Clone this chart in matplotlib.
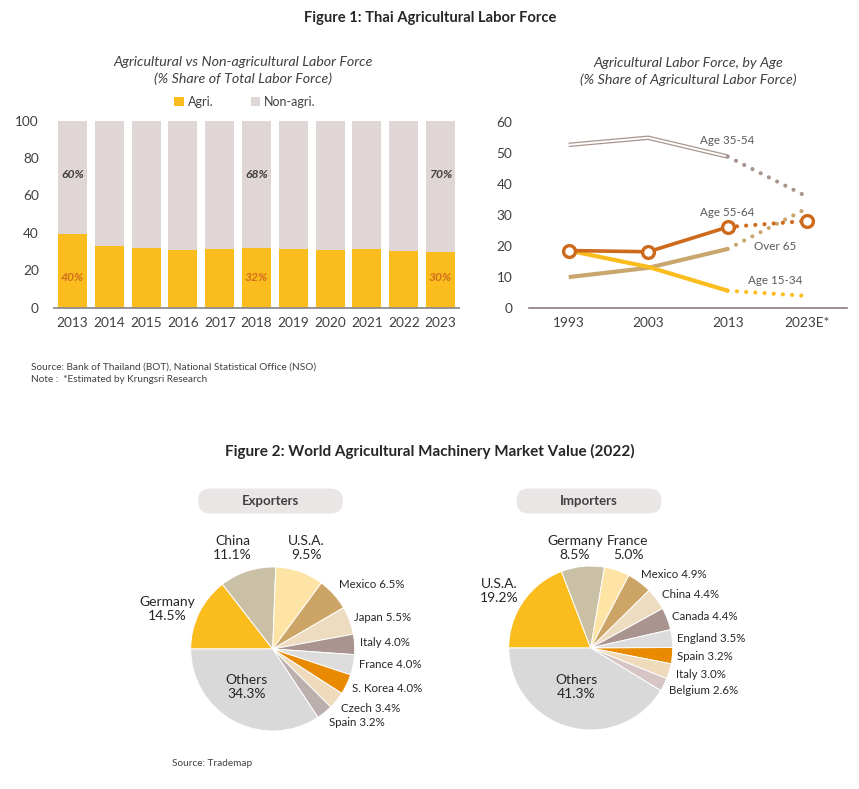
import matplotlib
matplotlib.use("Agg")
import matplotlib.pyplot as plt
from matplotlib.patches import FancyBboxPatch, Patch

plt.rcParams['font.family'] = ['Lato', 'DejaVu Sans']

# ---------------- data ----------------
years = ["2013", "2014", "2015", "2016", "2017", "2018", "2019", "2020", "2021", "2022", "2023"]
agri = [39.6, 33.2, 32.1, 31.0, 31.4, 32.1, 31.2, 31.0, 31.6, 30.3, 29.9]
non_agri = [round(100 - v, 1) for v in agri]
labeled_idx = [0, 5, 10]

age_periods = ["1993", "2003", "2013", "2023E*"]
age_35_54 = [52.7, 55.0, 48.9, 35.9]
age_55_64 = [18.5, 18.1, 26.1, 28.1]
age_15_34 = [18.5, 13.2, 5.5, 3.8]
age_over65 = [9.9, 12.9, 19.0, 32.2]

exp_names = ["Germany", "China", "U.S.A.", "Mexico", "Japan", "Italy", "France",
             "S. Korea", "Czech", "Spain", "Others"]
exp_share = [14.5, 11.1, 9.5, 6.5, 5.5, 4.0, 4.0, 4.0, 3.4, 3.2, 34.3]

imp_names = ["U.S.A.", "Germany", "France", "Mexico", "China", "Canada", "England",
             "Spain", "Italy", "Belgium", "Others"]
imp_share = [19.2, 8.5, 5.0, 4.9, 4.4, 4.4, 3.5, 3.2, 3.0, 2.6, 41.3]

# ---------------- styles ----------------
W, H = 859, 789
fig = plt.figure(figsize=(W / 100, H / 100), dpi=100)
fig.patch.set_facecolor("white")

def fx(x):
    return x / W

def fy(y):
    return 1 - y / H

TXT = "#404040"
DARK = "#262626"
YEL = "#fbbc1e"
GRAYBAR = "#e0d6d6"
AX = "#8c8c8c"

# ---------------- titles ----------------
fig.text(fx(430), fy(18), "Figure 1: Thai Agricultural Labor Force", ha="center", va="center",
         fontsize=10.6, fontweight="bold", color=DARK)
fig.text(fx(430), fy(451), "Figure 2: World Agricultural Machinery Market Value (2022)", ha="center",
         va="center", fontsize=11, fontweight="bold", color=DARK)

# ---------------- bar chart ----------------
ax1 = fig.add_axes([fx(54), fy(307.7), (459 - 54) / W, (307.7 - 120.7) / H])
x = list(range(len(years)))
ax1.bar(x, agri, width=0.79, color=YEL, zorder=2)
ax1.bar(x, non_agri, bottom=agri, width=0.79, color=GRAYBAR, zorder=2)
ax1.set_xlim(-0.5, len(years) - 0.5)
ax1.set_ylim(0, 100)
ax1.set_yticks([0, 20, 40, 60, 80, 100])
ax1.set_xticks(x)
ax1.set_xticklabels(years)
ax1.tick_params(axis="both", length=0, labelsize=9.8, colors=TXT)
ax1.tick_params(axis="y", pad=11)
ax1.tick_params(axis="x", pad=7)
for s in ["top", "right", "left"]:
    ax1.spines[s].set_visible(False)
ax1.spines["bottom"].set_color(AX)
ax1.spines["bottom"].set_linewidth(1.3)
for i in labeled_idx:
    ax1.text(i, 16.4, f"{round(agri[i])}%", ha="center", va="center", fontsize=8.7,
             fontweight="bold", fontstyle="italic", color="#d2701c")
    ax1.text(i, 71, f"{round(non_agri[i])}%", ha="center", va="center", fontsize=8.7,
             fontweight="bold", fontstyle="italic", color=TXT)

fig.text(fx(243), fy(62), "Agricultural vs Non-agricultural Labor Force", ha="center", va="center",
         fontsize=10.3, fontstyle="italic", color=TXT)
fig.text(fx(243), fy(79), "(% Share of Total Labor Force)", ha="center", va="center",
         fontsize=10.3, fontstyle="italic", color=TXT)
handles = [Patch(facecolor=YEL, label="Agri."), Patch(facecolor=GRAYBAR, label="Non-agri.")]
leg = fig.legend(handles=handles, loc="center", bbox_to_anchor=(fx(245), fy(102)), ncol=2,
                 frameon=False, fontsize=9, handlelength=0.75, handleheight=0.75,
                 handletextpad=0.3, columnspacing=3.0)
for t in leg.get_texts():
    t.set_color(TXT)

# ---------------- line chart ----------------
ax2 = fig.add_axes([fx(529), fy(307.7), (847 - 529) / W, (307.7 - 122.3) / H])
xp = list(range(len(age_periods)))
DOT = (0, (0.01, 2.2))
C3554 = "#a8958f"
C5564 = "#cd6a1c"
C1534 = YEL
C65 = "#c9a66e"

# Over 65
ax2.plot(xp[:3], age_over65[:3], color=C65, lw=3, solid_capstyle="butt", zorder=2)
ax2.plot(xp[2:], age_over65[2:], color=C65, lw=3, ls=DOT, dash_capstyle="round", zorder=2)
# Age 15-34
ax2.plot(xp[:3], age_15_34[:3], color=C1534, lw=3, solid_capstyle="butt", zorder=3)
ax2.plot(xp[2:], age_15_34[2:], color=C1534, lw=3, ls=DOT, dash_capstyle="round", zorder=3)
# Age 35-54 (double line)
ax2.plot(xp[:3], age_35_54[:3], color=C3554, lw=3.2, solid_capstyle="butt", zorder=2)
ax2.plot(xp[:3], age_35_54[:3], color="white", lw=1.4, solid_capstyle="butt", zorder=2)
ax2.plot(xp[2:], age_35_54[2:], color=C3554, lw=3, ls=DOT, dash_capstyle="round", zorder=2)
# Age 55-64
ax2.plot(xp[:3], age_55_64[:3], color=C5564, lw=2.6, solid_capstyle="butt", zorder=4)
ax2.plot(xp[2:], age_55_64[2:], color=C5564, lw=3, ls=DOT, dash_capstyle="round", zorder=4)
ax2.plot(xp, age_55_64, ls="none", marker="o", ms=8.5, mfc="white", mec=C5564, mew=2.4, zorder=5)

ax2.set_xlim(-0.5, 3.5)
ax2.set_ylim(0, 60)
ax2.set_yticks([0, 10, 20, 30, 40, 50, 60])
ax2.set_xticks(xp)
ax2.set_xticklabels(age_periods)
ax2.tick_params(axis="both", length=0, labelsize=9.8, colors=TXT)
ax2.tick_params(axis="y", pad=12)
ax2.tick_params(axis="x", pad=7)
for s in ["top", "right", "left"]:
    ax2.spines[s].set_visible(False)
ax2.spines["bottom"].set_color("#8a7f7c")
ax2.spines["bottom"].set_linewidth(1.2)
for ln in ax2.lines:
    ln.set_clip_on(False)

LBL = "#595959"
fig.text(fx(727), fy(141), "Age 35-54", ha="center", va="center", fontsize=8.4, color=LBL)
fig.text(fx(727), fy(213), "Age 55-64", ha="center", va="center", fontsize=8.4, color=LBL)
fig.text(fx(775), fy(246), "Over 65", ha="center", va="center", fontsize=8.4, color=LBL)
fig.text(fx(775), fy(281), "Age 15-34", ha="center", va="center", fontsize=8.4, color=LBL)

fig.text(fx(688), fy(63), "Agricultural Labor Force, by Age", ha="center", va="center",
         fontsize=10.3, fontstyle="italic", color=TXT)
fig.text(fx(688), fy(80), "(% Share of Agricultural Labor Force)", ha="center", va="center",
         fontsize=10.3, fontstyle="italic", color=TXT)

fig.text(fx(31), fy(367), "Source: Bank of Thailand (BOT), National Statistical Office (NSO)",
         ha="left", va="center", fontsize=7.2, color=TXT)
fig.text(fx(31), fy(380), "Note :  *Estimated by Krungsri Research",
         ha="left", va="center", fontsize=7.2, color=TXT)

# ---------------- pies ----------------
exp_colors = ["#fbbc1e", "#c9c0a6", "#fde4a4", "#cca566", "#eedcc0", "#a9948f", "#dcdcdc",
              "#e98a00", "#efdabb", "#bcb0ae", "#d9d9d9"]
imp_colors = ["#fbbc1e", "#c9c0a6", "#fde4a4", "#cca566", "#eedcc0", "#a9948f", "#dcdcdc",
              "#e98a00", "#efdabb", "#d6c5c4", "#d9d9d9"]

R = 82

def pie_axes(cx, cy):
    return fig.add_axes([fx(cx - R), fy(cy + R), 2 * R / W, 2 * R / H])

ax3 = pie_axes(272.7, 649)
ax3.pie(exp_share, colors=exp_colors, startangle=180, counterclock=False,
        wedgeprops=dict(edgecolor="white", linewidth=0.7))
ax3.set_xlim(-1, 1)
ax3.set_ylim(-1, 1)
ax3.axis("off")

ax4 = pie_axes(590.7, 648)
ax4.pie(imp_share, colors=imp_colors, startangle=180, counterclock=False,
        wedgeprops=dict(edgecolor="white", linewidth=0.7))
ax4.set_xlim(-1, 1)
ax4.set_ylim(-1, 1)
ax4.axis("off")

def big(xpx, ypx, name, val):
    fig.text(fx(xpx), fy(ypx), f"{name}\n{val:.1f}%", ha="center", va="center",
             fontsize=10, color=DARK, linespacing=1.2)

def small(xpx, ypx, name, val):
    fig.text(fx(xpx), fy(ypx), f"{name} {val:.1f}%", ha="left", va="center",
             fontsize=8.3, color=DARK)

exp_big = {"Germany": (167.7, 609), "China": (232.7, 548), "U.S.A.": (306.7, 548), "Others": (247, 687)}
exp_small = {"Mexico": (339, 584), "Japan": (354, 617.7), "Italy": (360, 642), "France": (359, 664),
             "S. Korea": (352, 689), "Czech": (341, 708), "Spain": (329, 722)}
for n, v in zip(exp_names, exp_share):
    if n in exp_big:
        big(*exp_big[n], n, v)
    else:
        small(*exp_small[n], n, v)

imp_big = {"U.S.A.": (499, 591), "Germany": (575, 548), "France": (628, 548), "Others": (576, 687)}
imp_small = {"Mexico": (641, 574), "China": (662, 595), "Canada": (672, 617), "England": (677, 639),
             "Spain": (677, 656), "Italy": (676, 674), "Belgium": (669, 690)}
for n, v in zip(imp_names, imp_share):
    if n in imp_big:
        big(*imp_big[n], n, v)
    else:
        small(*imp_small[n], n, v)

# header boxes
for cx, label in [(270.5, "Exporters"), (589, "Importers")]:
    bw, bh = 145, 25
    box = FancyBboxPatch((fx(cx - bw / 2), fy(501 + bh / 2)), bw / W, bh / H,
                         boxstyle="round,pad=0,rounding_size=0.0145",
                         mutation_aspect=W / H,
                         transform=fig.transFigure, facecolor="#ebe6e6", edgecolor="none")
    fig.patches.append(box)
    fig.text(fx(cx), fy(501), label, ha="center", va="center", fontsize=9.5,
             fontweight="bold", color=TXT)

fig.text(fx(172), fy(763), "Source: Trademap", ha="left", va="center", fontsize=7.2, color=TXT)

fig.savefig("out.png", dpi=100, facecolor="white")
